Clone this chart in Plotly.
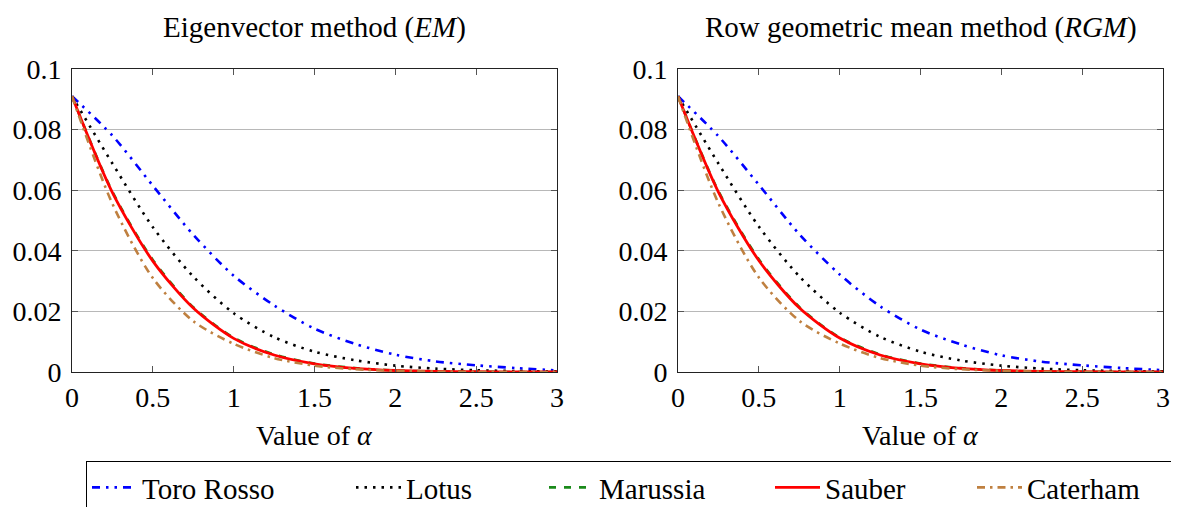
import plotly.graph_objects as go
from plotly.subplots import make_subplots

alpha = [0, 0.25, 0.5, 0.75, 1, 1.25, 1.5, 1.75, 2, 2.25, 2.5, 2.75, 3]

# Eigenvector method (EM)
em_toro = [0.091, 0.078, 0.0615, 0.0453, 0.0318, 0.0220, 0.0143, 0.0093, 0.0057, 0.0035, 0.0022, 0.0013, 0.0005]
em_lotus = [0.091, 0.0688, 0.0478, 0.0315, 0.0194, 0.0115, 0.0067, 0.0039, 0.0021, 0.0011, 0.0006, 0.0003, 0.0002]
em_marussia = [0.091, 0.0595, 0.0370, 0.0214, 0.0113, 0.0058, 0.0028, 0.0013, 0.0005, 0.0002, 0.0001, 0.0, 0.0]
em_sauber = [0.091, 0.0592, 0.0366, 0.0211, 0.0111, 0.0056, 0.0027, 0.0012, 0.0005, 0.0002, 0.0001, 0.0, 0.0]
em_caterham = [0.091, 0.0555, 0.0310, 0.0168, 0.0093, 0.0046, 0.0021, 0.0009, 0.0004, 0.0001, 0.0, 0.0, 0.0]

# Row geometric mean method (RGM)
rgm_toro = [0.091, 0.0778, 0.0618, 0.0455, 0.0322, 0.0217, 0.0140, 0.0091, 0.0055, 0.0034, 0.0022, 0.0013, 0.0006]
rgm_lotus = [0.091, 0.0688, 0.0480, 0.0316, 0.0196, 0.0116, 0.0067, 0.0038, 0.0021, 0.0011, 0.0006, 0.0003, 0.0002]
rgm_marussia = [0.091, 0.0597, 0.0372, 0.0215, 0.0114, 0.0058, 0.0028, 0.0013, 0.0005, 0.0002, 0.0001, 0.0, 0.0]
rgm_sauber = [0.091, 0.0594, 0.0368, 0.0212, 0.0112, 0.0056, 0.0027, 0.0012, 0.0005, 0.0002, 0.0001, 0.0, 0.0]
rgm_caterham = [0.091, 0.0557, 0.0312, 0.0169, 0.0094, 0.0046, 0.0021, 0.0009, 0.0004, 0.0001, 0.0, 0.0, 0.0]

team_names = ["Toro Rosso", "Lotus", "Marussia", "Sauber", "Caterham"]
titles = ["Eigenvector method (<i>EM</i>)", "Row geometric mean method (<i>RGM</i>)"]
x_tickvals = [0, 0.5, 1, 1.5, 2, 2.5, 3]
x_ticktext = ["0", "0.5", "1", "1.5", "2", "2.5", "3"]
y_tickvals = [0, 0.02, 0.04, 0.06, 0.08, 0.1]
y_ticktext = ["0", "0.02", "0.04", "0.06", "0.08", "0.1"]

styles = [
    dict(color="#0000FF", width=2.6, dash="8px,6px,2.5px,6px,2.5px,6px"),
    dict(color="#000000", width=2.6, dash="2.5px,6px"),
    dict(color="#1a8a1a", width=2.6, dash="7px,8px"),
    dict(color="#FF0000", width=2.8, dash="solid"),
    dict(color="#BF8040", width=2.6, dash="8px,5px,2.5px,5px"),
]
legend_widths = [204, 133, 166, 142, 140]

FONT = "Liberation Serif, serif"
OFF = 8  # page body margin
W, H = 1179 - OFF, 507 - OFF


def fx(p):
    return (p - OFF) / W


def fy(p):
    return (H - (p - OFF)) / H


fig = make_subplots(rows=1, cols=2)
datasets = [
    [em_toro, em_lotus, em_marussia, em_sauber, em_caterham],
    [rgm_toro, rgm_lotus, rgm_marussia, rgm_sauber, rgm_caterham],
]
for c, series in enumerate(datasets, start=1):
    for i, ys in enumerate(series):
        fig.add_trace(
            go.Scatter(
                x=alpha, y=ys, mode="lines", name=team_names[i],
                line=dict(shape="spline", smoothing=0.8, **styles[i]),
                showlegend=(c == 1), legendrank=i, legendwidth=legend_widths[i],
            ),
            row=1, col=c,
        )

xdoms = [[fx(72), fx(557)], [fx(678), fx(1163)]]
ydom = [fy(372), fy(69)]
for c in (1, 2):
    fig.update_xaxes(
        domain=xdoms[c - 1], range=[0, 3], tickvals=x_tickvals, ticktext=x_ticktext,
        ticks="inside", ticklen=6, tickcolor="#555", showline=True, linecolor="#222",
        linewidth=1, mirror="ticks", showgrid=False, zeroline=False,
        tickfont=dict(family=FONT, size=28, color="#000"), automargin=False,
        row=1, col=c,
    )
    fig.update_yaxes(
        domain=ydom, range=[0, 0.1], tickvals=y_tickvals, ticktext=y_ticktext,
        ticks="inside", ticklen=6, tickcolor="#555", showline=True, linecolor="#222",
        linewidth=1, mirror="ticks", showgrid=True, gridcolor="#b8b8b8", gridwidth=1,
        zeroline=False, tickfont=dict(family=FONT, size=28, color="#000"), automargin=False,
        ticklabelstandoff=4,
        row=1, col=c,
    )

annotations = []
for c, t in enumerate(titles, start=1):
    xr = "x domain" if c == 1 else "x2 domain"
    annotations.append(dict(text=t, xref=xr, x=0.5, yref="paper", y=fy(27),
                            xanchor="center", yanchor="middle", showarrow=False,
                            font=dict(family=FONT, size=29, color="#000")))
    annotations.append(dict(text="Value of <i>α</i>", xref=xr, x=0.5, yref="paper", y=fy(435),
                            xanchor="center", yanchor="middle", showarrow=False,
                            font=dict(family=FONT, size=28, color="#000")))

fig.update_layout(
    width=W, height=H, margin=dict(l=0, r=0, t=0, b=0, autoexpand=False),
    paper_bgcolor="white", plot_bgcolor="white",
    annotations=annotations,
    legend=dict(
        orientation="h", x=fx(86), xanchor="left", y=fy(461), yanchor="top",
        bordercolor="#000", borderwidth=1, bgcolor="white",
        font=dict(family=FONT, size=29, color="#000"),
        itemwidth=45, entrywidthmode="pixels",
        traceorder="normal",
    ),
)

fig.write_html("out.html")
